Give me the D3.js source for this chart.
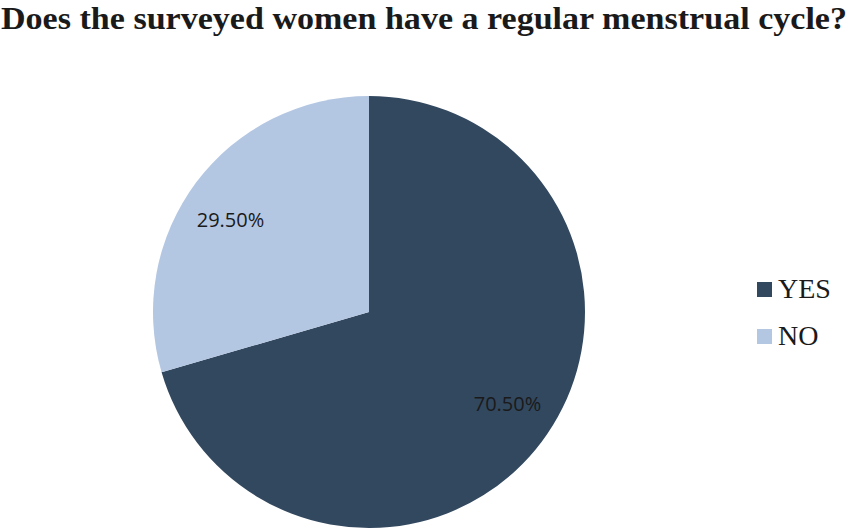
<!DOCTYPE html>
<html>
<head>
<meta charset="utf-8">
<script src="https://cdn.jsdelivr.net/npm/d3@7"></script>
<style>
  html, body { margin: 0; padding: 0; background: #fff; }
  svg { display: block; }
</style>
</head>
<body>
<svg id="chart" width="854" height="529"></svg>
<script>
const title = "Does the surveyed women have a regular menstrual cycle?";
const categories = ["YES", "NO"];
const values = [70.5, 29.5];
const labels = ["70.50%", "29.50%"];
const colors = ["#32485f", "#b3c6e2"];

const SERIF = '"Liberation Serif", monospace';
const SANS = '"Open Sans", monospace';

const svg = d3.select("#chart");
const cx = 369, cy = 312, R = 216;

svg.append("text")
  .style("font-family", SERIF)
  .attr("x", 1).attr("y", 29)
  .attr("font-weight", "bold")
  .attr("font-size", 32.5)
  .attr("fill", "#1a1a1a")
  .attr("textLength", 846)
  .attr("lengthAdjust", "spacingAndGlyphs")
  .text(title);

const color = d3.scaleOrdinal().domain(categories).range(colors);
const data = categories.map((c, i) => ({ cat: c, value: values[i], label: labels[i] }));
const pie = d3.pie().value(d => d.value).sort(null);
const arcs = pie(data);
const arc = d3.arc().innerRadius(0).outerRadius(R);

const g = svg.append("g").attr("transform", `translate(${cx},${cy})`);
g.selectAll("path").data(arcs).join("path")
  .attr("d", arc)
  .attr("fill", d => color(d.data.cat));

g.selectAll("text.lbl").data(arcs).join("text")
  .attr("class", "lbl")
  .style("font-family", SANS)
  .attr("transform", d => {
    const p = d3.pointRadial((d.startAngle + d.endAngle) / 2 - 0.06, 166);
    return `translate(${p})`;
  })
  .attr("text-anchor", "middle")
  .attr("dy", "0.35em")
  .attr("font-size", 20)
  .attr("fill", "#1a1a1a")
  .text(d => d.data.label);

const legend = svg.append("g").attr("transform", "translate(757,282)");
const li = legend.selectAll("g").data(categories).join("g")
  .attr("transform", (d, i) => `translate(0,${i * 47})`);
li.append("rect").attr("width", 15).attr("height", 15).attr("fill", d => color(d));
li.append("text")
  .style("font-family", SERIF)
  .attr("x", 21).attr("y", 16)
  .attr("font-size", 28)
  .attr("fill", "#1a1a1a")
  .text(d => d);
</script>
</body>
</html>
